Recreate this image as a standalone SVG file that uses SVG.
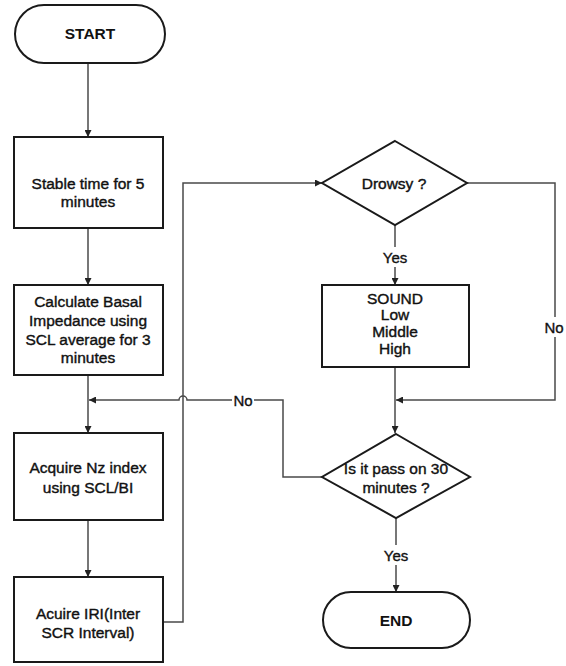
<svg xmlns="http://www.w3.org/2000/svg" width="566" height="666" viewBox="0 0 566 666">
<defs>
<style>
.shape{fill:#fff;stroke:#1a1a1a;stroke-width:2}
.t{font-family:"Liberation Sans",Arial,sans-serif;font-size:15.5px;fill:#111;stroke:#111;stroke-width:0.4;text-anchor:middle;dominant-baseline:central}
.b{font-weight:bold;stroke-width:0}
.c{fill:none;stroke:#4a4a4a;stroke-width:1.5}
.lbl{font-family:"Liberation Sans",Arial,sans-serif;font-size:15px;fill:#111;stroke:#111;stroke-width:0.35;text-anchor:middle;dominant-baseline:central}
</style>
<marker id="ah" viewBox="0 0 10 10" refX="10" refY="5" markerWidth="7" markerHeight="7" markerUnits="userSpaceOnUse" orient="auto">
<path d="M0,0 L10,5 L0,10 z" fill="#222"/>
</marker>
</defs>
<rect width="566" height="666" fill="#fff"/>
<g id="connectors">
<path class="c" d="M88,63 V137" marker-end="url(#ah)"/>
<path class="c" d="M88,228 V285" marker-end="url(#ah)"/>
<path class="c" d="M88,375 V433" marker-end="url(#ah)"/>
<path class="c" d="M88,520 V577" marker-end="url(#ah)"/>
<path class="c" d="M163,622 H183 V183 H322" marker-end="url(#ah)"/>
<path class="c" d="M322,477 H283 V400 H254"/>
<path class="c" d="M232,400 H187 A4,4 0 0 0 179,400 H89" marker-end="url(#ah)"/>
<path class="c" d="M395,225 V247"/>
<path class="c" d="M395,267 V285" marker-end="url(#ah)"/>
<path class="c" d="M467,183 H555 V317"/>
<path class="c" d="M555,337 V400 H396" marker-end="url(#ah)"/>
<path class="c" d="M395,367 V433" marker-end="url(#ah)"/>
<path class="c" d="M396,518 V545"/>
<path class="c" d="M396,565 V592" marker-end="url(#ah)"/>
<text class="lbl" x="243" y="400">No</text>
<text class="lbl" x="395" y="257">Yes</text>
<text class="lbl" x="554" y="327">No</text>
<text class="lbl" x="396" y="555">Yes</text>
</g>
<g id="start">
<rect class="shape" x="15" y="5" width="150" height="58" rx="29" ry="29"/>
<text class="t b" x="90" y="33">START</text>
</g>
<g id="stable">
<rect class="shape" x="14" y="137" width="149" height="91"/>
<text class="t" x="88" y="183">Stable time for 5</text>
<text class="t" x="88" y="201">minutes</text>
</g>
<g id="calculate">
<rect class="shape" x="14" y="285" width="149" height="90"/>
<text class="t" x="88" y="301">Calculate Basal</text>
<text class="t" x="88" y="320">Impedance using</text>
<text class="t" x="88" y="339">SCL average for 3</text>
<text class="t" x="88" y="357">minutes</text>
</g>
<g id="acquire-nz">
<rect class="shape" x="14" y="433" width="149" height="87"/>
<text class="t" x="88" y="467">Acquire Nz index</text>
<text class="t" x="88" y="487">using SCL/BI</text>
</g>
<g id="acquire-iri">
<rect class="shape" x="14" y="577" width="149" height="85"/>
<text class="t" x="88" y="613">Acuire IRI(Inter</text>
<text class="t" x="88" y="632">SCR Interval)</text>
</g>
<g id="drowsy">
<polygon class="shape" points="395,141 467,183 395,225 322,183"/>
<text class="t" x="394" y="183">Drowsy ?</text>
</g>
<g id="sound">
<rect class="shape" x="322" y="285" width="147" height="82"/>
<text class="t" x="395" y="298">SOUND</text>
<text class="t" x="395" y="314">Low</text>
<text class="t" x="395" y="331">Middle</text>
<text class="t" x="395" y="348">High</text>
</g>
<g id="pass30">
<polygon class="shape" points="396,434 470,477 396,518 322,477"/>
<text class="t" x="396" y="468">Is it pass on 30</text>
<text class="t" x="396" y="487">minutes ?</text>
</g>
<g id="end">
<rect class="shape" x="323" y="592" width="147" height="56" rx="28" ry="28"/>
<text class="t b" x="396" y="620">END</text>
</g>
</svg>
